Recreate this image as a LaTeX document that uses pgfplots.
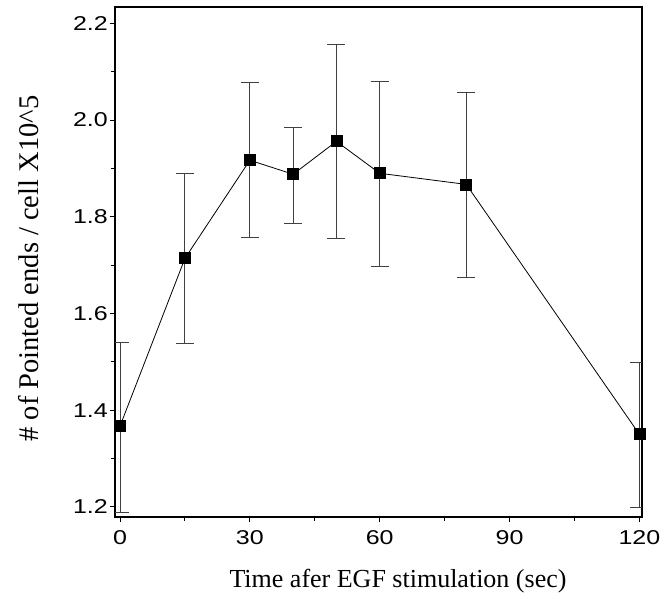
\documentclass[border=0pt]{standalone}
\usepackage{fontspec}
\setmainfont{Liberation Serif}
\newfontfamily\arial[FakeStretch=1.25]{Liberation Sans}
\usepackage{pgfplots}
\usepackage{pgfplotstable}
\pgfplotsset{compat=1.18}
\pgfplotstableread{
t y ep em
0 1.367 0.174 0.179
15 1.714 0.176 0.176
30 1.917 0.161 0.159
40 1.888 0.097 0.102
50 1.956 0.201 0.200
60 1.890 0.191 0.192
80 1.867 0.191 0.193
120 1.350 0.149 0.152
}\datatable
\begin{document}
\begin{tikzpicture}
\begin{axis}[name=ax,
  scale only axis, width=527pt, height=510pt,
  xmin=-1.16, xmax=120.6, ymin=1.179, ymax=2.234,
  xtick={0,30,60,90,120}, minor xtick={15,45,75,105},
  ytick={1.2,1.4,1.6,1.8,2.0,2.2}, minor ytick={1.3,1.5,1.7,1.9,2.1},
  tick pos=left, tick align=outside,
  major tick length=5pt, minor tick length=4pt,
  every tick/.style={black, line width=1pt},
  axis line style={line width=1.4pt},
  /pgf/number format/assume math mode=true,
  yticklabel style={/pgf/number format/fixed, /pgf/number format/fixed zerofill, /pgf/number format/precision=1, font=\arial\fontsize{20}{22}\selectfont, inner sep=2pt},
  xticklabel style={font=\arial\fontsize{20}{22}\selectfont, yshift=-5pt},
  xlabel={Time afer EGF stimulation (sec)},
  ylabel={\# of Pointed ends / cell X10\^{}5},
  xlabel style={font=\fontsize{26}{29}\selectfont, at={(axis description cs:0.537,-0.139)}, anchor=base},
  ylabel style={font=\fontsize{28.5}{31}\selectfont, at={(axis description cs:-0.146,0.487)}, anchor=base},
]
\addplot[black, line width=0.8pt, mark=square*, mark size=5.5pt, mark options={solid, fill=black},
  error bars/.cd, y dir=both, y explicit,
  error bar style={line width=0.9pt, black!75},
  error mark options={rotate=90, mark size=9pt, line width=0.9pt, black!75}]
  table[x=t, y=y, y error plus=ep, y error minus=em] {\datatable};
\end{axis}
\pgfresetboundingbox
\path (ax.south west) ++(-115pt,-82pt) coordinate (bl);
\path (ax.north east) ++(23pt,7pt) coordinate (tr);
\path[use as bounding box] (bl) rectangle (tr);
\end{tikzpicture}
\end{document}
